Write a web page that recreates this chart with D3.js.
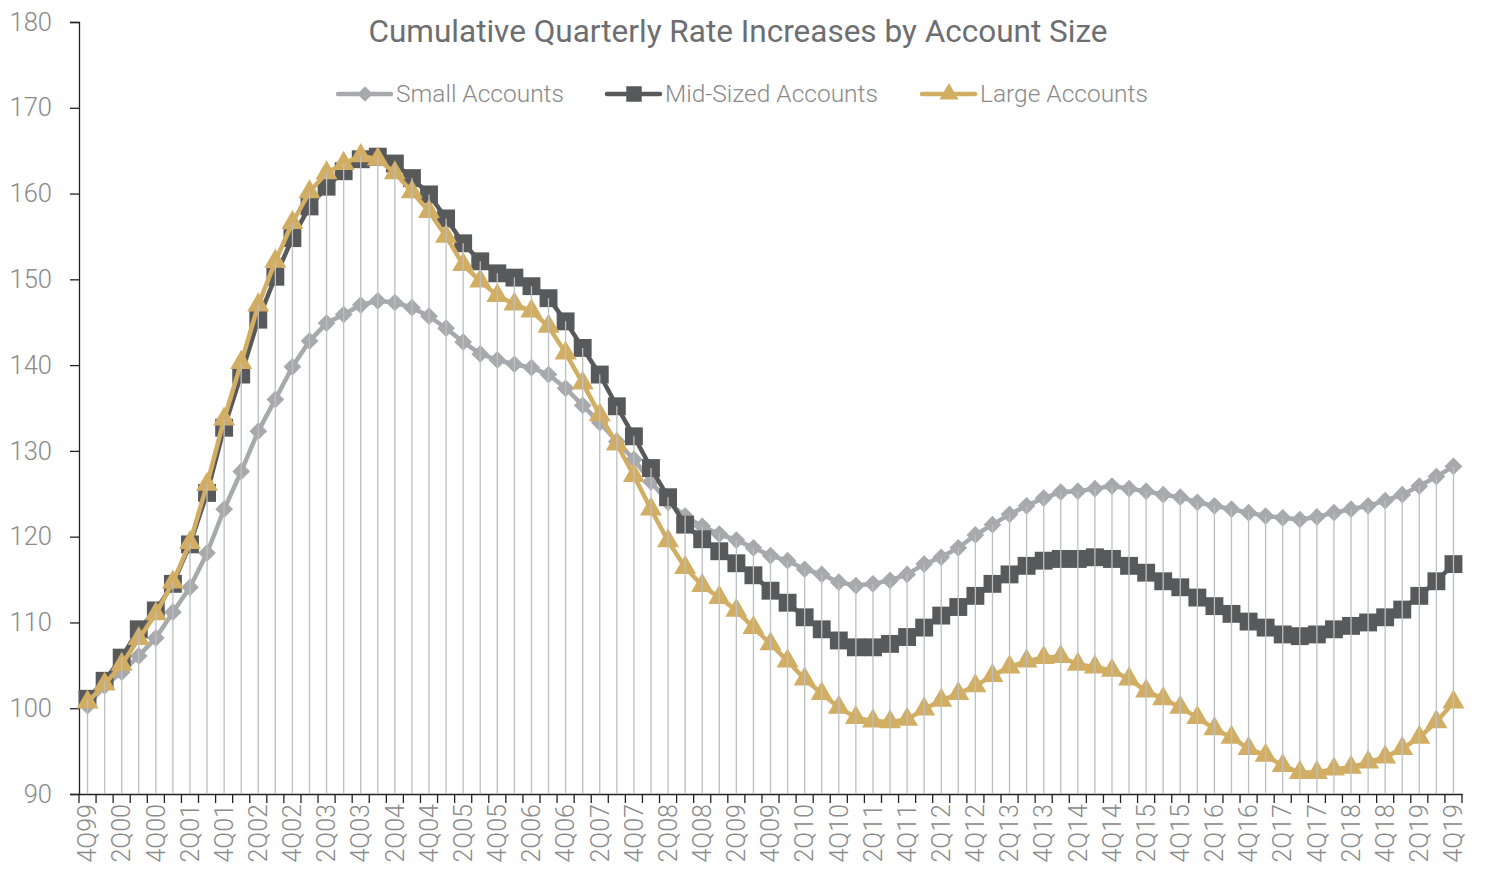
<!DOCTYPE html>
<html>
<head>
<meta charset="utf-8">
<script src="https://cdn.jsdelivr.net/npm/d3@7"></script>
<style>
  body { margin: 0; background: #fff; }
  text { font-family: Roboto, "Open Sans", sans-serif; }
</style>
</head>
<body>
<svg width="1485" height="879"></svg>
<script>
let svg = d3.select("svg");

// quarters 4Q99 .. 4Q19
let quarters = [];
quarters.push("4Q99");
for (let y = 0; y <= 19; y++) {
  for (let q = 1; q <= 4; q++) quarters.push(q + "Q" + String(y).padStart(2, "0"));
}

let small = [100.3, 102.6, 104.2, 106.1, 108.2, 111.2, 114.1, 118.1, 123.2, 127.6,
  132.3, 136.0, 139.8, 142.8, 144.9, 145.9, 147.0, 147.5, 147.3, 146.7,
  145.7, 144.3, 142.7, 141.3, 140.6, 140.1, 139.7, 138.9, 137.3, 135.3,
  133.3, 131.1, 129.0, 126.4, 124.0, 122.4, 121.2, 120.3, 119.6, 118.7,
  117.8, 117.2, 116.2, 115.6, 114.7, 114.3, 114.5, 114.9, 115.6, 116.8,
  117.6, 118.7, 120.2, 121.4, 122.6, 123.6, 124.5, 125.2, 125.3, 125.6,
  125.9, 125.6, 125.3, 124.9, 124.6, 124.0, 123.6, 123.2, 122.8, 122.4,
  122.2, 122.0, 122.3, 122.8, 123.2, 123.6, 124.2, 124.9, 125.9, 127.0, 128.2];

let mid = [101.1, 103.2, 105.9, 109.2, 111.4, 114.5, 119.1, 125.1, 132.7, 138.9,
  145.3, 150.3, 154.8, 158.5, 160.8, 162.6, 164.0, 164.3, 163.5, 161.8,
  159.9, 157.1, 154.2, 152.1, 150.7, 150.2, 149.2, 147.8, 145.1, 142.0,
  138.9, 135.2, 131.7, 128.0, 124.6, 121.4, 119.7, 118.3, 116.9, 115.5,
  113.7, 112.3, 110.6, 109.2, 107.9, 107.1, 107.1, 107.5, 108.3, 109.4,
  110.8, 111.8, 113.1, 114.5, 115.6, 116.6, 117.2, 117.4, 117.4, 117.6,
  117.4, 116.6, 115.8, 114.8, 114.1, 112.9, 111.9, 111.0, 110.1, 109.4,
  108.6, 108.4, 108.6, 109.2, 109.6, 110.0, 110.6, 111.5, 113.1, 114.8, 116.8];

let large = [100.7, 102.8, 105.1, 108.1, 111.0, 114.7, 119.3, 126.1, 133.7, 140.3,
  147.0, 152.1, 156.6, 160.2, 162.4, 163.5, 164.4, 164.0, 162.4, 160.2,
  157.9, 155.0, 151.7, 149.8, 148.1, 147.1, 146.3, 144.5, 141.4, 137.9,
  134.2, 130.8, 127.1, 123.2, 119.5, 116.4, 114.3, 112.9, 111.4, 109.4,
  107.5, 105.5, 103.4, 101.7, 100.1, 98.9, 98.5, 98.4, 98.7, 99.9,
  100.9, 101.7, 102.6, 103.8, 104.8, 105.5, 105.9, 106.0, 105.1, 104.8,
  104.4, 103.4, 102.0, 101.1, 100.1, 98.9, 97.6, 96.6, 95.3, 94.5,
  93.3, 92.5, 92.5, 92.9, 93.1, 93.7, 94.3, 95.3, 96.6, 98.4, 100.7];

let seriesNames = ["Small Accounts", "Mid-Sized Accounts", "Large Accounts"];
let seriesColors = ["#a7a9ac", "#58595b", "#d2ae64"];
let seriesSymbols = [d3.symbolDiamond2, d3.symbolSquare, d3.symbolTriangle];
let seriesSizes = [200, 320, 210];
let yTicks = [90, 100, 110, 120, 130, 140, 150, 160, 170, 180];

let series = [small, mid, large].map((vals, k) => ({
  name: seriesNames[k], color: seriesColors[k], symbol: seriesSymbols[k], size: seriesSizes[k],
  values: vals.map((v, i) => ({q: quarters[i], v: v}))
}));

let x = d3.scaleBand().domain(quarters).range([79, 1462]);
let y = d3.scaleLinear().domain([90, 180]).range([794, 22]);
let cx = q => x(q) + x.bandwidth() / 2;

// y axis
let yAxis = svg.append("g")
  .attr("transform", "translate(79,0)")
  .call(d3.axisLeft(y).tickValues(yTicks).tickSize(9).tickPadding(18));
yAxis.select(".domain").attr("stroke", "#222").attr("stroke-width", 1.3);
yAxis.selectAll(".tick line").attr("stroke", "#222").attr("stroke-width", 1.3);
yAxis.selectAll(".tick text")
  .attr("fill", "#8a8a8a")
  .style("font-size", "25.5px")
  .style("font-weight", 300)
  .style("font-family", "Roboto");

// x axis
let xAxis = svg.append("g")
  .attr("transform", "translate(0,794)")
  .call(d3.axisBottom(x).tickSize(0).tickFormat((d, i) => i % 2 === 0 ? d : ""));
xAxis.select(".domain").attr("stroke", "#222").attr("stroke-width", 1.3);
xAxis.selectAll(".tick text")
  .attr("fill", "#8a8a8a")
  .attr("transform", "rotate(-90)")
  .attr("text-anchor", "end")
  .attr("dx", "-10px")
  .attr("dy", "0.35em")
  .attr("y", 0)
  .style("font-size", "25px")
  .style("font-weight", 300)
  .style("font-family", "Roboto");

// x tick marks at band edges
svg.append("g")
  .selectAll("line")
  .data(d3.range(quarters.length + 1))
  .enter().append("line")
  .attr("x1", i => x.range()[0] + i * x.step())
  .attr("x2", i => x.range()[0] + i * x.step())
  .attr("y1", 794).attr("y2", 803)
  .attr("stroke", "#222").attr("stroke-width", 1.3);

let line = d3.line().x(d => cx(d.q)).y(d => y(d.v));

let sg = svg.append("g").selectAll("g")
  .data(series)
  .enter().append("g");

sg.append("path")
  .attr("d", d => line(d.values))
  .attr("fill", "none")
  .attr("stroke", d => d.color)
  .attr("stroke-width", 4.5)
  .attr("stroke-linejoin", "round");

sg.selectAll("path.mark")
  .data(d => d.values.map(p => ({p: p, s: d})))
  .enter().append("path")
  .attr("class", "mark")
  .attr("transform", d => `translate(${cx(d.p.q)},${y(d.p.v)})`)
  .attr("d", d => d3.symbol().type(d.s.symbol).size(d.s.size)())
  .attr("fill", d => d.s.color);

// drop lines, drawn over the series like the original
svg.append("g")
  .selectAll("line")
  .data(quarters)
  .enter().append("line")
  .attr("x1", d => cx(d)).attr("x2", d => cx(d))
  .attr("y1", (d, i) => y(Math.max(small[i], mid[i], large[i])))
  .attr("y2", y(90))
  .attr("stroke", "#bcbec0")
  .attr("stroke-width", 1.3);

// title
svg.append("text")
  .attr("x", 738).attr("y", 42)
  .attr("text-anchor", "middle")
  .attr("fill", "#6d6e71")
  .style("font-size", "31.5px")
  .style("font-weight", 400)
  .text("Cumulative Quarterly Rate Increases by Account Size");

// legend
let legendX = [338, 607, 922];
let legend = svg.append("g").selectAll("g")
  .data(series)
  .enter().append("g")
  .attr("transform", (d, k) => `translate(${legendX[k]},94)`);

legend.append("line")
  .attr("x1", 0).attr("x2", 53)
  .attr("stroke", d => d.color)
  .attr("stroke-width", 4.5)
  .attr("stroke-linecap", "round");

legend.append("path")
  .attr("transform", "translate(27,0)")
  .attr("d", d => d3.symbol().type(d.symbol).size(d.size * 0.75)())
  .attr("fill", d => d.color);

legend.append("text")
  .attr("x", 58).attr("y", 0).attr("dy", "0.32em")
  .attr("fill", "#8a8a8a")
  .style("font-size", "24.5px")
  .style("font-weight", 300)
  .text(d => d.name);
</script>
</body>
</html>
